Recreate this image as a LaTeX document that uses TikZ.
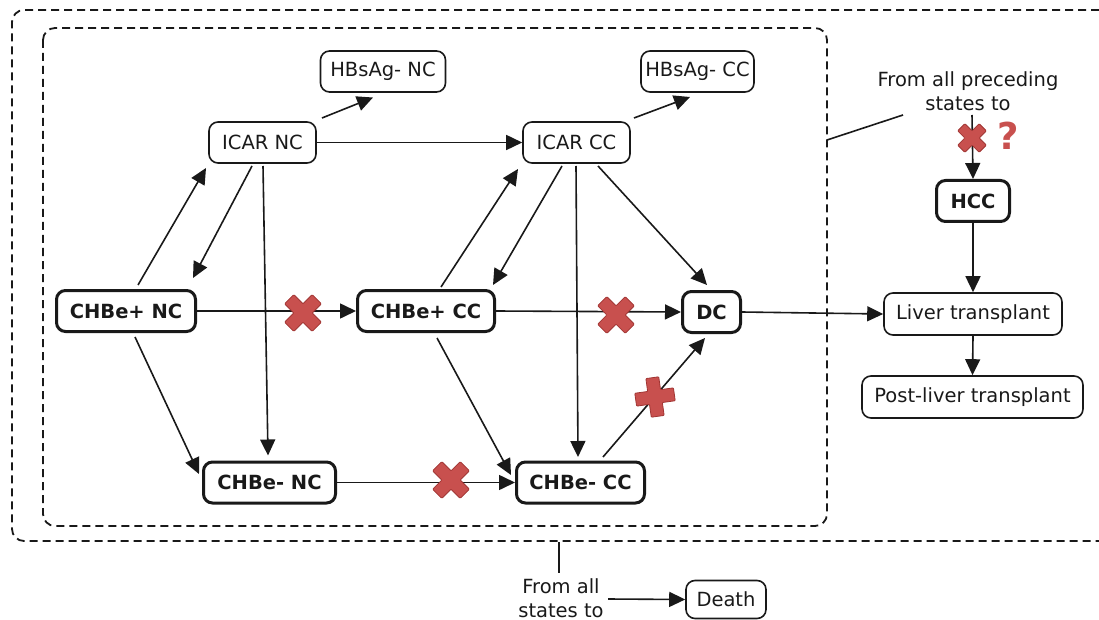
\documentclass[tikz,border=0pt]{standalone}
\usepackage{fontspec}
\setmainfont{DejaVu Sans}
\usetikzlibrary{arrows.meta}
\definecolor{xred}{RGB}{200,80,78}
\definecolor{xredd}{RGB}{160,52,50}
\definecolor{ink}{RGB}{25,25,25}
\tikzset{
  st/.style={draw=ink, text=ink, rounded corners=9pt, line width=1.6pt, minimum height=41pt, inner sep=0pt, align=center},
  bst/.style={st, line width=3pt, minimum height=41pt, font=\fontsize{19.5}{24}\selectfont\bfseries},
  lbl/.style={align=center, inner sep=0pt, text=ink},
  arr/.style={draw=ink, -{Triangle[length=16pt,width=15pt]}, line width=1.6pt},
  ln/.style={draw=ink, line width=1.6pt},
  dbox/.style={draw=ink, dash pattern=on 8pt off 5pt, line width=1.8pt, rounded corners=12pt},
  redx/.pic={\filldraw[fill=xred, draw=xredd, line width=0.8pt, rounded corners=0.8pt]
     (6.5,19.5) -- (6.5,6.5) -- (19.5,6.5) -- (19.5,-6.5) -- (6.5,-6.5) -- (6.5,-19.5)
     -- (-6.5,-19.5) -- (-6.5,-6.5) -- (-19.5,-6.5) -- (-19.5,6.5) -- (-6.5,6.5) -- (-6.5,19.5) -- cycle;}
}
\begin{document}
\begin{tikzpicture}[x=1pt, y=-1pt, font=\fontsize{19.5}{24}\selectfont]
\useasboundingbox (0,0) rectangle (1099,620);

% dashed frames
\draw[dbox] (1099,10) -- (12,10) -- (12,541) -- (1099,541);
\draw[dbox] (43,28) rectangle (827,526);
\coordinate (innerE) at (827,140);
\coordinate (outerS) at (559,542);

% nodes
\node[st, minimum width=125pt] (hn) at (383,71.5) {HBsAg- NC};
\node[st, minimum width=113pt] (hc) at (697.5,71.5) {HBsAg- CC};
\node[st, minimum width=107pt] (icn) at (262.5,142.5) {ICAR NC};
\node[st, minimum width=107pt] (icc) at (576.5,142.5) {ICAR CC};
\node[bst, minimum width=139pt] (cpn) at (126,311) {CHBe+ NC};
\node[bst, minimum width=137pt] (cpc) at (426,311) {CHBe+ CC};
\node[bst, minimum width=58pt] (dc) at (711.5,312) {DC};
\node[bst, minimum width=132pt] (cmn) at (269.5,482.5) {CHBe- NC};
\node[bst, minimum width=128pt] (cmc) at (580.5,482.5) {CHBe- CC};
\node[bst, minimum width=73pt] (hcc) at (973,201) {HCC};
\node[st, minimum width=178pt, minimum height=42pt] (lt) at (973,314) {Liver transplant};
\node[st, minimum width=221pt, minimum height=42pt] (plt) at (972.5,397) {Post-liver transplant};
\node[st, minimum width=80pt, minimum height=38pt] (death) at (726,599.5) {Death};
\node[lbl] (t1) at (968,91) {From all preceding\\states to};
\node[lbl] (t2) at (561,598) {From all\\states to};

% connectors
\draw[arr] ([shift={(12,-26)}]cpn.center) -- ([shift={(-56.5,25.5)}]icn.center);
\draw[arr] ([shift={(-10.5,23.5)}]icn.center) -- ([shift={(67,-33)}]cpn.center);
\draw[arr] ([shift={(0.5,23.5)}]icn.center) -- ([shift={(-1.5,-27)}]cmn.center);
\draw[arr] ([shift={(59.5,-24.5)}]icn.center) -- ([shift={(-10,26)}]hn.center);
\draw[arr] (icn.east) -- (icc.west);
\draw[arr] ([shift={(57.5,-24.5)}]icc.center) -- ([shift={(-7.5,25.5)}]hc.center);
\draw[arr] ([shift={(15,-24)}]cpc.center) -- ([shift={(-58.5,26.5)}]icc.center);
\draw[arr] ([shift={(-14.5,23.5)}]icc.center) -- ([shift={(67,-26)}]cpc.center);
\draw[arr] ([shift={(-0.5,23.5)}]icc.center) -- ([shift={(-2.5,-25.5)}]cmc.center);
\draw[arr] ([shift={(21.5,23.5)}]icc.center) -- ([shift={(-4.5,-27)}]dc.center);
\draw[arr] (cpn.east) -- (cpc.west);
\draw[arr] (cpc.east) -- (dc.west);
\draw[arr] ([shift={(9,26)}]cpn.center) -- ([shift={(-70.5,-8.5)}]cmn.center);
\draw[arr] ([shift={(11,27)}]cpc.center) -- ([shift={(-69.5,-7.5)}]cmc.center);
\draw[arr] (cmn.east) -- (cmc.west);
\draw[arr] ([shift={(22.5,-25.5)}]cmc.center) -- ([shift={(-6.5,26)}]dc.center);
\draw[arr] (dc.east) -- (lt.west);
\draw[arr] (hcc.south) -- (lt.north);
\draw[arr] (lt.south) -- (plt.north);
\draw[arr] ([shift={(4,24)}]t1.center) -- (hcc.north);
\draw[ln] (innerE) -- ([shift={(-65,24)}]t1.center);
\draw[ln] (outerS) -- ([shift={(-2,-25)}]t2.center);
\draw[arr] ([shift={(47,1)}]t2.center) -- (death.west);

% red crosses
\pic[rotate=45] at (303,313) {redx};
\pic[rotate=45] at (616,315) {redx};
\pic[rotate=45] at (451,480) {redx};
\pic[rotate=8] at (655,397) {redx};
\pic[rotate=45, scale=0.78] at (972,138) {redx};
\node[text=xred, font=\fontsize{37}{37}\selectfont\bfseries, inner sep=0pt] (qm) at (1008,136) {?};
\end{tikzpicture}
\end{document}
